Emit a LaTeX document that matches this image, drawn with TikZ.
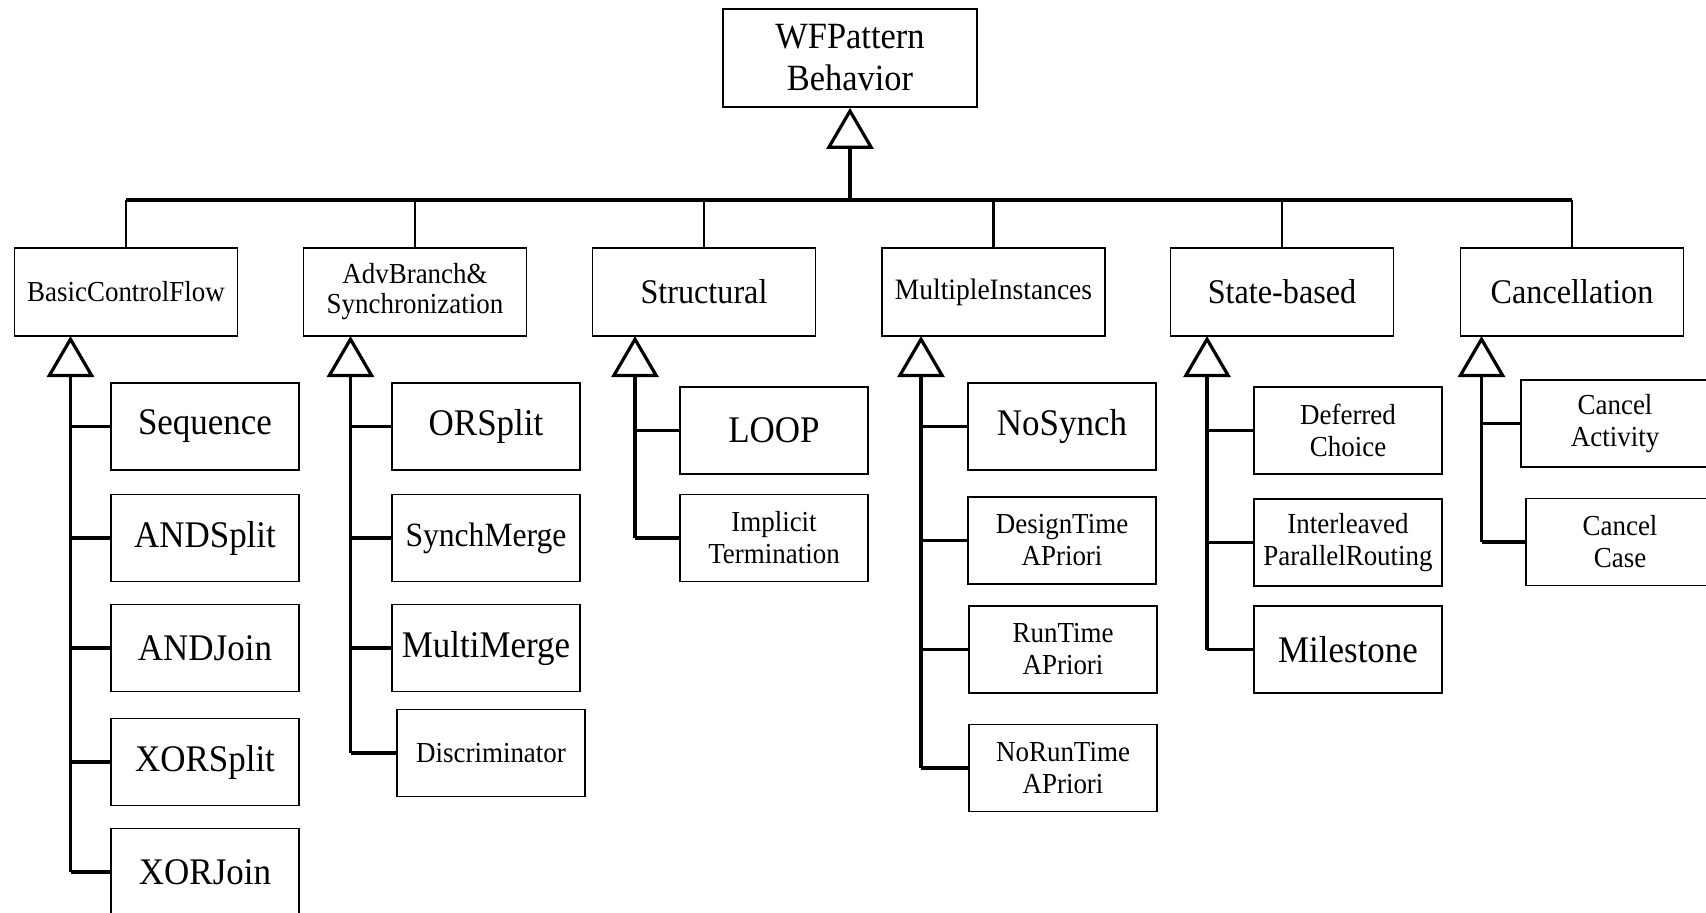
\documentclass[tikz,border=0pt]{standalone}
\usepackage{fontspec}
\setmainfont[FakeStretch=0.93]{Liberation Serif}
\usepackage{tikz}
\usetikzlibrary{arrows.meta,positioning}
\tikzset{
    % Define boxes
    topbox/.style={
           rectangle,
           draw=black,
           line width=0.8pt,
           minimum width=127pt,
           minimum height=49pt,
           inner sep=0pt,
           align=center,
           font=\fontsize{18.5}{21}\selectfont},
    catbox/.style={
           rectangle,
           draw=black,
           line width=0.8pt,
           minimum width=111.5pt,
           minimum height=44pt,
           inner sep=0pt,
           align=center,
           font=\fontsize{17.3}{19}\selectfont},
    leafbox/.style={
           rectangle,
           draw=black,
           line width=0.8pt,
           minimum width=94pt,
           minimum height=43.5pt,
           inner sep=0pt,
           align=center,
           font=\fontsize{18.8}{21}\selectfont},
    % Define text sizes
    txtsmall/.style={font=\fontsize{14.5}{16}\selectfont},
    txtmid/.style={font=\fontsize{17}{19}\selectfont},
    % Define generalization arrow style
    gen/.style={
           -{Triangle[open,length=20.5pt,width=23.5pt]},
           line width=1.6pt},
    link/.style={line width=1.6pt},
    drop/.style={line width=1.4pt},
    bus/.style={line width=1.8pt}
}
\begin{document}
\begin{tikzpicture}[x=0.5pt, y=-0.5pt]
    \useasboundingbox (0,0) rectangle (1706,912);

    % root
    \node [topbox] (WF) at (850,58) {WFPattern\\Behavior};
    \coordinate (bus) at (850,200);

    % categories
    \node [catbox, txtsmall] (BCF) at (126,292) {BasicControlFlow};
    \node [catbox, font=\fontsize{14.5}{15}\selectfont] (ADV) at (415,292) {AdvBranch\&\\Synchronization};
    \node [catbox] (STR) at (704,292) {Structural};
    \node [catbox, font=\fontsize{14.8}{16}\selectfont] (MI) at (993.5,292) {MultipleInstances};
    \node [catbox] (SB) at (1282,292) {State-based};
    \node [catbox] (CAN) at (1572,292) {Cancellation};

    % triangle tips under the categories
    \coordinate (xBCF) at (70.5,336);
    \coordinate (xADV) at (350.5,336);
    \coordinate (xSTR) at (635,336);
    \coordinate (xMI) at (921,336);
    \coordinate (xSB) at (1207,336);
    \coordinate (xCAN) at (1481.5,336);

    % BasicControlFlow patterns
    \node [leafbox] (Seq) at (205,426.5) {Sequence};
    \node [leafbox] (ASplit) at (205,538) {ANDSplit};
    \node [leafbox] (AJoin) at (205,648) {ANDJoin};
    \node [leafbox] (XSplit) at (205,762) {XORSplit};
    \node [leafbox] (XJoin) at (205,872) {XORJoin};

    % AdvBranch patterns
    \node [leafbox] (ORS) at (486,426.5) {ORSplit};
    \node [leafbox, txtmid] (SMerge) at (486,538) {SynchMerge};
    \node [leafbox] (MMerge) at (486,648) {MultiMerge};
    \node [leafbox, txtsmall] (Disc) at (491,753) {Discriminator};

    % Structural patterns
    \node [leafbox] (Loop) at (774,430.5) {LOOP};
    \node [leafbox, txtsmall] (ImplT) at (774,538) {Implicit\\Termination};

    % MultipleInstances patterns
    \node [leafbox] (NoS) at (1062,426.5) {NoSynch};
    \node [leafbox, txtsmall] (DTime) at (1062,540.5) {DesignTime\\APriori};
    \node [leafbox, txtsmall] (RTime) at (1063,649.5) {RunTime\\APriori};
    \node [leafbox, txtsmall] (NRTime) at (1063,768) {NoRunTime\\APriori};

    % State-based patterns
    \node [leafbox, txtsmall] (DChoice) at (1348,430.5) {Deferred\\Choice};
    \node [leafbox, txtsmall] (IPR) at (1348,542.5) {Interleaved\\ParallelRouting};
    \node [leafbox] (MStone) at (1348,649.5) {Milestone};

    % Cancellation patterns
    \node [leafbox, txtsmall] (CAct) at (1615,423.5) {Cancel\\Activity};
    \node [leafbox, txtsmall] (CCase) at (1620,542) {Cancel\\Case};

    % root generalization and bus
    \draw [gen] (bus) -- (WF.south);
    \draw [bus] (BCF.north |- bus) -- (CAN.north |- bus);
    \draw [drop] (BCF.north) -- (BCF.north |- bus);
    \draw [drop] (ADV.north) -- (ADV.north |- bus);
    \draw [drop] (STR.north) -- (STR.north |- bus);
    \draw [drop] (MI.north) -- (MI.north |- bus);
    \draw [drop] (SB.north) -- (SB.north |- bus);
    \draw [drop] (CAN.north) -- (CAN.north |- bus);

    % spines
    \draw [gen] (xBCF |- XJoin.west) -- (xBCF);
    \draw [gen] (xADV |- Disc.west) -- (xADV);
    \draw [gen] (xSTR |- ImplT.west) -- (xSTR);
    \draw [gen] (xMI |- NRTime.west) -- (xMI);
    \draw [gen] (xSB |- MStone.west) -- (xSB);
    \draw [gen] (xCAN |- CCase.west) -- (xCAN);

    % links to the patterns
    \draw [link] (xBCF |- Seq.west) -- (Seq.west);
    \draw [link] (xBCF |- ASplit.west) -- (ASplit.west);
    \draw [link] (xBCF |- AJoin.west) -- (AJoin.west);
    \draw [link] (xBCF |- XSplit.west) -- (XSplit.west);
    \draw [link] (xBCF |- XJoin.west) -- (XJoin.west);

    \draw [link] (xADV |- ORS.west) -- (ORS.west);
    \draw [link] (xADV |- SMerge.west) -- (SMerge.west);
    \draw [link] (xADV |- MMerge.west) -- (MMerge.west);
    \draw [link] (xADV |- Disc.west) -- (Disc.west);

    \draw [link] (xSTR |- Loop.west) -- (Loop.west);
    \draw [link] (xSTR |- ImplT.west) -- (ImplT.west);

    \draw [link] (xMI |- NoS.west) -- (NoS.west);
    \draw [link] (xMI |- DTime.west) -- (DTime.west);
    \draw [link] (xMI |- RTime.west) -- (RTime.west);
    \draw [link] (xMI |- NRTime.west) -- (NRTime.west);

    \draw [link] (xSB |- DChoice.west) -- (DChoice.west);
    \draw [link] (xSB |- IPR.west) -- (IPR.west);
    \draw [link] (xSB |- MStone.west) -- (MStone.west);

    \draw [link] (xCAN |- CAct.west) -- (CAct.west);
    \draw [link] (xCAN |- CCase.west) -- (CCase.west);
\end{tikzpicture}
\end{document}
